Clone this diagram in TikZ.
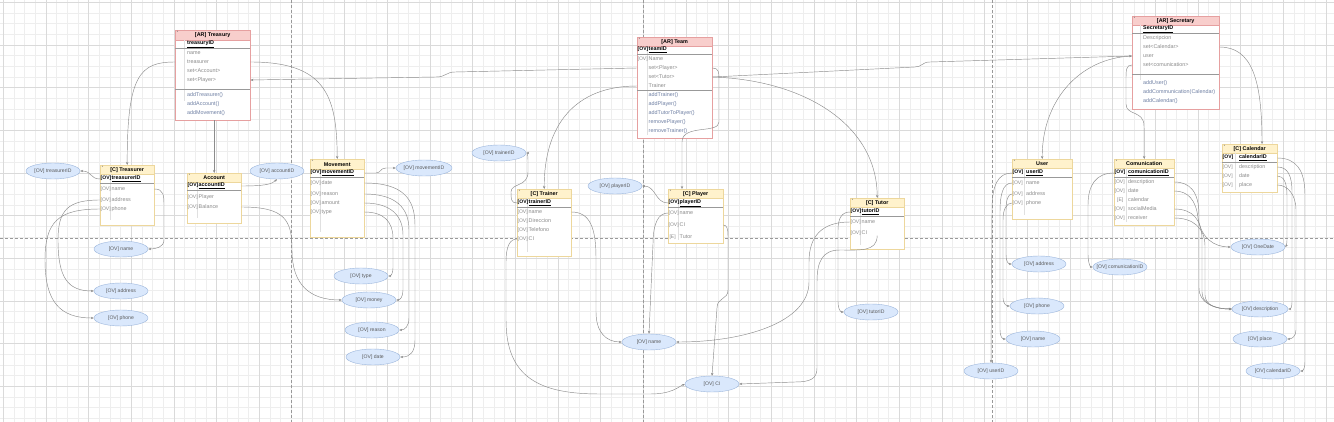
\documentclass[tikz,border=0pt]{standalone}
\usepackage{fontspec}
\setmainfont{Liberation Sans}
\usetikzlibrary{shapes.geometric, arrows.meta}

\definecolor{arfill}{HTML}{F8CECC}
\definecolor{arline}{HTML}{E6A0A0}
\definecolor{cfill}{HTML}{FFF2CC}
\definecolor{cline}{HTML}{EDD79C}
\definecolor{ovfill}{HTML}{DAE8FC}
\definecolor{ovline}{HTML}{9CB6DC}
\definecolor{gridminor}{HTML}{EEEEEE}
\definecolor{gridmajor}{HTML}{DADADA}
\definecolor{edgegray}{HTML}{8C8C8C}
\definecolor{rowtext}{HTML}{8A8A8A}
\definecolor{methtext}{HTML}{6E7FA3}

\newcommand{\tg}[2]{\makebox[#1][l]{\fontsize{5}{6}\selectfont #2}}
\newcommand{\ovt}[1]{\makebox[0pt]{[OV] #1}}

\begin{document}
\begin{tikzpicture}[x=1pt, y=-1pt, >={Stealth[length=3pt,width=2.4pt]},
  every node/.style={font=\fontsize{5.4}{6}\selectfont, inner sep=0pt},
  arbox/.style={draw=arline, fill=white, anchor=north west},
  arhead/.style={draw=arline, fill=arfill, anchor=north west, font=\fontsize{5.4}{6}\selectfont\bfseries},
  cbox/.style={draw=cline, fill=white, anchor=north west},
  chead/.style={draw=cline, fill=cfill, anchor=north west, font=\fontsize{5.4}{6}\selectfont\bfseries},
  starmark/.style={font=\fontsize{3.5}{4}\selectfont, text=black!70},
  keyrow/.style={anchor=west, text=black, font=\fontsize{5.4}{6}\selectfont\bfseries},
  attr/.style={anchor=west, text=rowtext},
  meth/.style={anchor=west, text=methtext},
  ovell/.style={ellipse, draw=ovline, fill=ovfill, minimum width=54pt, minimum height=16pt,
    text=black!65, font=\fontsize{5.1}{6}\selectfont},
  link/.style={draw=edgegray, line width=0.45pt, ->},
  keyline/.style={draw=black!40, line width=0.9pt},
  colline/.style={draw=black!12, line width=0.3pt},
  pagebreak/.style={draw=black!40, line width=0.4pt, dash pattern=on 3pt off 2pt}]

  % background and grid
  \fill[white] (0,0) rectangle (1334,422);
  \useasboundingbox (0,0) rectangle (1334,422);
  \foreach \i in {0,...,125} \draw[gridminor, line width=0.3pt] ({3+\i*10.667},0) -- ({3+\i*10.667},422);
  \foreach \i in {0,...,40} \draw[gridminor, line width=0.3pt] (0,{2+\i*10.667}) -- (1334,{2+\i*10.667});
  \foreach \i in {0,...,31} \draw[gridmajor, line width=0.3pt] ({3+\i*42.667},0) -- ({3+\i*42.667},422);
  \foreach \i in {0,...,10} \draw[gridmajor, line width=0.3pt] (0,{2+\i*42.667}) -- (1334,{2+\i*42.667});
  \draw[pagebreak] (291,0) -- (291,422);
  \draw[pagebreak] (643,0) -- (643,422);
  \draw[pagebreak] (992,0) -- (992,422);
  \draw[pagebreak] (0,238) -- (1334,238);

  % [AR] Treasury
  \node[arbox, minimum width=75pt, minimum height=90pt] (treasury) at (175,30) {};
  \node[arhead, minimum width=75pt, minimum height=10pt] (try-h) at (treasury.north west) {[AR] Treasury};
  \node[starmark] (try-star) at (177.5,32) {*};
  \draw[colline] (184,40) -- (184,101);
  \node[keyrow] (try-id) at (187,44) {\underline{treasuryID}};
  \draw[keyline] (175,48) -- (250,48);
  \node[attr] (try-name) at (187,53) {name};
  \node[attr] (try-treas) at (187,62) {treasurer};
  \node[attr] (try-setacc) at (187,71) {set<Account>};
  \node[attr] (try-setply) at (187,80) {set<Player>};
  \draw[keyline] (175,89) -- (250,89);
  \node[meth] (try-m1) at (187,95) {addTreasurer()};
  \node[meth] (try-m2) at (187,104) {addAccount()};
  \node[meth] (try-m3) at (187,113) {addMovement()};

  % [C] Treasurer
  \node[cbox, minimum width=54pt, minimum height=60pt] (treasurer) at (100,165) {};
  \node[chead, minimum width=54pt, minimum height=9pt] (tsr-h) at (treasurer.north west) {[C] Treasurer};
  \node[starmark] (tsr-star) at (102.5,167) {*};
  \draw[colline] (110,174) -- (110,220);
  \node[keyrow] (tsr-id) at (100.5,179) {\tg{11pt}{[OV]}\underline{treasurerID}};
  \draw[keyline] (100,183) -- (154,183);
  \node[attr] (tsr-name) at (100.5,189) {\tg{11pt}{[OV]}name};
  \node[attr] (tsr-addr) at (100.5,200) {\tg{11pt}{[OV]}address};
  \node[attr] (tsr-phone) at (100.5,209) {\tg{11pt}{[OV]}phone};

  % Account
  \node[cbox, minimum width=54pt, minimum height=50pt] (account) at (187,173) {};
  \node[chead, minimum width=54pt, minimum height=9pt] (acc-h) at (account.north west) {Account};
  \node[starmark] (acc-star) at (189.5,175) {*};
  \draw[colline] (197,182) -- (197,218);
  \node[keyrow] (acc-id) at (187.5,186) {\tg{11pt}{[OV]}\underline{accountID}};
  \draw[keyline] (187,190) -- (241,190);
  \node[attr] (acc-player) at (187.5,197) {\tg{11pt}{[OV]}Player};
  \node[attr] (acc-bal) at (187.5,207) {\tg{11pt}{[OV]}Balance};

  % Movement
  \node[cbox, minimum width=54pt, minimum height=78pt] (movement) at (310,159) {};
  \node[chead, minimum width=54pt, minimum height=10pt] (mov-h) at (movement.north west) {Movement};
  \node[starmark] (mov-star) at (312.5,161) {*};
  \draw[colline] (320,169) -- (320,232);
  \node[keyrow] (mov-id) at (310.5,173) {\tg{11pt}{[OV]}\underline{movementID}};
  \draw[keyline] (310,177) -- (364,177);
  \node[attr] (mov-date) at (310.5,183) {\tg{11pt}{[OV]}date};
  \node[attr] (mov-reason) at (310.5,194) {\tg{11pt}{[OV]}reason};
  \node[attr] (mov-amount) at (310.5,203) {\tg{11pt}{[OV]}amount};
  \node[attr] (mov-type) at (310.5,212) {\tg{11pt}{[OV]}type};

  % [AR] Team
  \node[arbox, minimum width=75pt, minimum height=101pt] (team) at (637,37) {};
  \node[arhead, minimum width=75pt, minimum height=9pt] (team-h) at (team.north west) {[AR] Team};
  \node[starmark] (team-star) at (639.5,39) {*};
  \draw[colline] (647,46) -- (647,135);
  \node[keyrow] (team-id) at (637.5,50) {\tg{11pt}{[OV]}\underline{teamID}};
  \draw[keyline] (637,54) -- (712,54);
  \node[attr] (team-name) at (637.5,59) {\tg{11pt}{[OV]}Name};
  \node[attr] (team-setply) at (648.5,68) {set<Player>};
  \node[attr] (team-settut) at (648.5,77) {set<Tutor>};
  \node[attr] (team-trainer) at (648.5,86) {Trainer};
  \draw[keyline] (637,90) -- (712,90);
  \node[meth] (team-m1) at (648.5,95) {addTrainer()};
  \node[meth] (team-m2) at (648.5,104) {addPlayer()};
  \node[meth] (team-m3) at (648.5,113) {addTutorToPlayer()};
  \node[meth] (team-m4) at (648.5,122) {removePlayer()};
  \node[meth] (team-m5) at (648.5,131) {removeTrainer()};

  % [C] Trainer
  \node[cbox, minimum width=54pt, minimum height=67pt] (trainer) at (517,189) {};
  \node[chead, minimum width=54pt, minimum height=9pt] (trn-h) at (trainer.north west) {[C] Trainer};
  \node[starmark] (trn-star) at (519.5,191) {*};
  \draw[colline] (527,198) -- (527,252);
  \node[keyrow] (trn-id) at (517.5,203) {\tg{11pt}{[OV]}\underline{trainerID}};
  \draw[keyline] (517,207) -- (571,207);
  \node[attr] (trn-name) at (517.5,212) {\tg{11pt}{[OV]}name};
  \node[attr] (trn-dir) at (517.5,221) {\tg{11pt}{[OV]}Direccion};
  \node[attr] (trn-tel) at (517.5,230) {\tg{11pt}{[OV]}Telefono};
  \node[attr] (trn-ci) at (517.5,239) {\tg{11pt}{[OV]}CI};

  % [C] Player
  \node[cbox, minimum width=55pt, minimum height=54pt] (player) at (668,189) {};
  \node[chead, minimum width=55pt, minimum height=9pt] (ply-h) at (player.north west) {[C] Player};
  \node[starmark] (ply-star) at (670.5,191) {*};
  \draw[colline] (678,198) -- (678,240);
  \node[keyrow] (ply-id) at (668.5,203) {\tg{11pt}{[OV]}\underline{playerID}};
  \draw[keyline] (668,207) -- (723,207);
  \node[attr] (ply-name) at (668.5,213) {\tg{11pt}{[OV]}name};
  \node[attr] (ply-ci) at (668.5,225) {\tg{11pt}{[OV]}CI};
  \node[attr] (ply-tutor) at (668.5,237) {\tg{11pt}{\,[E]}Tutor};

  % [C] Tutor
  \node[cbox, minimum width=54pt, minimum height=51pt] (tutor) at (850,198) {};
  \node[chead, minimum width=54pt, minimum height=9pt] (tut-h) at (tutor.north west) {[C] Tutor};
  \node[starmark] (tut-star) at (852.5,200) {*};
  \draw[colline] (860,207) -- (860,245);
  \node[keyrow] (tut-id) at (850.5,212) {\tg{11pt}{[OV]}\underline{tutorID}};
  \draw[keyline] (850,216) -- (904,216);
  \node[attr] (tut-name) at (850.5,222) {\tg{11pt}{[OV]}name};
  \node[attr] (tut-ci) at (850.5,233) {\tg{11pt}{[OV]}CI};

  % [AR] Secretary
  \node[arbox, minimum width=87pt, minimum height=93pt] (secretary) at (1132,16) {};
  \node[arhead, minimum width=87pt, minimum height=9pt] (sec-h) at (secretary.north west) {[AR] Secretary};
  \node[starmark] (sec-star) at (1134.5,18) {*};
  \draw[colline] (1140.5,25) -- (1140.5,80);
  \node[keyrow] (sec-id) at (1143,29) {\underline{SecretaryID}};
  \draw[keyline] (1132,33) -- (1219,33);
  \node[attr] (sec-desc) at (1143,38) {Descripcion};
  \node[attr] (sec-setcal) at (1143,47) {set<Calendar>};
  \node[attr] (sec-user) at (1143,56) {user};
  \node[attr] (sec-setcom) at (1143,65) {set<comunication>};
  \draw[keyline] (1132,74) -- (1219,74);
  \node[meth] (sec-m1) at (1143,83) {addUser()};
  \node[meth] (sec-m2) at (1143,92) {addCommunication(Calendar)};
  \node[meth] (sec-m3) at (1143,101) {addCalendar()};

  % User
  \node[cbox, minimum width=60pt, minimum height=60pt] (user) at (1012,159) {};
  \node[chead, minimum width=60pt, minimum height=9pt] (usr-h) at (user.north west) {User};
  \node[starmark] (usr-star) at (1014.5,161) {*};
  \draw[colline] (1024.5,168) -- (1024.5,215);
  \node[keyrow] (usr-id) at (1012.5,173) {\tg{13.5pt}{[OV]}\underline{userID}};
  \draw[keyline] (1012,177) -- (1072,177);
  \node[attr] (usr-name) at (1012.5,183) {\tg{13.5pt}{[OV]}name};
  \node[attr] (usr-addr) at (1012.5,194) {\tg{13.5pt}{[OV]}address};
  \node[attr] (usr-phone) at (1012.5,203) {\tg{13.5pt}{[OV]}phone};

  % Comunication
  \node[cbox, minimum width=60pt, minimum height=66pt] (comm) at (1114,159) {};
  \node[chead, minimum width=60pt, minimum height=9pt] (com-h) at (comm.north west) {Comunication};
  \node[starmark] (com-star) at (1116.5,161) {*};
  \draw[colline] (1126.5,168) -- (1126.5,222);
  \node[keyrow] (com-id) at (1114.5,173) {\tg{13.5pt}{[OV]}\underline{comunicationID}};
  \draw[keyline] (1114,177) -- (1174,177);
  \node[attr] (com-desc) at (1114.5,182) {\tg{13.5pt}{[OV]}description};
  \node[attr] (com-date) at (1114.5,191) {\tg{13.5pt}{[OV]}date};
  \node[attr] (com-cal) at (1114.5,200) {\tg{13.5pt}{\hspace{2.5pt}[E]}calendar};
  \node[attr] (com-social) at (1114.5,209) {\tg{13.5pt}{[OV]}socialMedia};
  \node[attr] (com-recv) at (1114.5,218) {\tg{13.5pt}{[OV]}receiver};

  % [C] Calendar
  \node[cbox, minimum width=55pt, minimum height=48pt] (calendar) at (1222,144) {};
  \node[chead, minimum width=55pt, minimum height=9pt] (cal-h) at (calendar.north west) {[C] Calendar};
  \node[starmark] (cal-star) at (1224.5,146) {*};
  \draw[colline] (1235.5,153) -- (1235.5,190);
  \node[keyrow] (cal-id) at (1222.5,158) {\tg{16.5pt}{[OV]}\underline{calendarID}};
  \draw[keyline] (1222,162) -- (1277,162);
  \node[attr] (cal-desc) at (1222.5,167) {\tg{16.5pt}{[OV]}description};
  \node[attr] (cal-date) at (1222.5,176) {\tg{16.5pt}{[OV]}date};
  \node[attr] (cal-place) at (1222.5,185) {\tg{16.5pt}{[OV]}place};

  % value objects
  \node[ovell] (ov-tsrid) at (53,171) {\ovt{treasurerID}};
  \node[ovell] (ov-tsrname) at (121,249) {\ovt{name}};
  \node[ovell] (ov-tsraddr) at (121,291) {\ovt{address}};
  \node[ovell] (ov-tsrphone) at (121,318) {\ovt{phone}};
  \node[ovell] (ov-accid) at (277,171) {\ovt{accountID}};
  \node[ovell, minimum width=56pt] (ov-movid) at (424,168) {\ovt{movementID}};
  \node[ovell] (ov-type) at (361,276) {\ovt{type}};
  \node[ovell] (ov-money) at (369,300) {\ovt{money}};
  \node[ovell] (ov-reason) at (372,330) {\ovt{reason}};
  \node[ovell] (ov-date) at (373,357) {\ovt{date}};
  \node[ovell] (ov-trnid) at (499,153) {\ovt{trainerID}};
  \node[ovell] (ov-plyid) at (615,186) {\ovt{playerID}};
  \node[ovell] (ov-name) at (649,342) {\ovt{name}};
  \node[ovell] (ov-ci) at (712,384) {\ovt{CI}};
  \node[ovell] (ov-tutid) at (871,312) {\ovt{tutorID}};
  \node[ovell] (ov-usraddr) at (1039,264) {\ovt{address}};
  \node[ovell] (ov-usrphone) at (1037,306) {\ovt{phone}};
  \node[ovell] (ov-usrname) at (1033,339) {\ovt{name}};
  \node[ovell] (ov-usrid) at (991,371) {\ovt{userID}};
  \node[ovell] (ov-comid) at (1120,267) {\ovt{comunicationID}};
  \node[ovell] (ov-onedate) at (1258,247) {\ovt{OneDate}};
  \node[ovell, minimum width=56pt] (ov-desc) at (1260,309) {\ovt{description}};
  \node[ovell] (ov-place) at (1260,339) {\ovt{place}};
  \node[ovell] (ov-calid) at (1273,371) {\ovt{calendarID}};

  % aggregate links
  \draw[link] (treasury.west |- try-treas) .. controls (140,62) and (127,75) .. (treasurer.north);
  \draw[link] (account.north |- treasury.south) -- (account.north);
  \draw[link] (treasury.east |- try-treas) .. controls (325,62) and (337,95) .. (movement.north);
  \draw[link] (team.west |- team-setply) -- (455,72) .. controls (446,72) and (446,77) .. (436,77) -- (treasury.east |- try-setply);
  \draw[link] (team.east |- team-settut) -- (915,67) .. controls (922,67) and (922,62) .. (930,62) -- (secretary.west |- sec-user);
  \draw[link] (team.east |- team-settut) .. controls (805,80) and (877,125) .. (tutor.north);
  \draw[link] (team.west |- team-trainer) .. controls (575,86) and (544,125) .. (trainer.north);
  \draw[link] (team.east |- team-setply) .. controls (719,68) and (719,72) .. (719,82) -- (719,122)
    .. controls (719,134) and (682,124) .. (682,142) -- ([xshift=14pt]player.north west);
  \draw[link] (secretary.west |- sec-user) .. controls (1080,58) and (1042,100) .. (user.north);
  \draw[link] (secretary.west |- sec-setcom) .. controls (1126,65) and (1126,70) .. (1126,80) -- (1126,104)
    .. controls (1126,116) and (1144,110) .. (1144,126) -- (comm.north);
  \draw[link] (secretary.east |- sec-setcal) .. controls (1252,47) and (1262,80) .. ([xshift=40pt]calendar.north west);

  % Treasurer values
  \draw[link] (treasurer.west |- tsr-id) .. controls (90,179) and (92,171) .. (ov-tsrid.east);
  \draw[link] (treasurer.east |- tsr-name) .. controls (164,189) and (164,196) .. (164,206) -- (164,240)
    .. controls (164,247) and (156,249) .. (ov-tsrname.east);
  \draw[link] (treasurer.west |- tsr-addr) .. controls (68,200) and (58,210) .. (58,240)
    .. controls (58,278) and (68,291) .. (ov-tsraddr.west);
  \draw[link] (treasurer.west |- tsr-phone) .. controls (58,209) and (45,222) .. (45,260)
    .. controls (45,302) and (60,318) .. (ov-tsrphone.west);

  % Account and Movement values
  \draw[link] (account.east |- acc-id) .. controls (266,186) and (272,184) .. (ov-accid.south);
  \draw[link] (account.east |- acc-bal) .. controls (285,207) and (292,220) .. (292,250)
    .. controls (292,285) and (310,300) .. (ov-money.west);
  \draw[link] (movement.east |- mov-id) -- (376,173) .. controls (381,173) and (380,168) .. (386,168) -- (ov-movid.west);
  \draw[link] (movement.east |- mov-date) .. controls (402,183) and (415,198) .. (415,225) -- (415,340)
    .. controls (415,352) and (410,357) .. (ov-date.east);
  \draw[link] (movement.east |- mov-reason) .. controls (396,194) and (409,208) .. (409,230) -- (409,318)
    .. controls (409,326) and (405,330) .. (ov-reason.east);
  \draw[link] (movement.east |- mov-amount) .. controls (390,203) and (403,215) .. (403,235) -- (403,290)
    .. controls (403,297) and (400,300) .. (ov-money.east);
  \draw[link] (movement.east |- mov-type) .. controls (384,212) and (393,222) .. (393,238) -- (393,268)
    .. controls (393,273) and (391,276) .. (ov-type.east);

  % Trainer, Player and Tutor values
  \draw[link] (trainer.west |- trn-id) .. controls (511,203) and (511,199) .. (511,192)
    .. controls (511,183) and (528,187) .. (528,172) -- (528,160) .. controls (528,156) and (527,153) .. (ov-trnid.east);
  \draw[link] (trainer.east |- trn-name) .. controls (590,212) and (596,228) .. (596,258) -- (596,312)
    .. controls (596,332) and (606,342) .. (ov-name.west);
  \draw[link] (trainer.west |- trn-ci) .. controls (510,239) and (506,246) .. (506,262) -- (506,320)
    .. controls (506,378) and (540,394) .. (600,394) -- (650,394) .. controls (672,394) and (678,387) .. (ov-ci.west);
  \draw[link] (player.west |- ply-id) .. controls (655,203) and (656,186) .. (ov-plyid.east);
  \draw[link] (player.west |- ply-name) .. controls (658,213) and (653,224) .. (653,244) -- (ov-name.north);
  \draw[link] (player.east |- ply-ci) .. controls (727,225) and (728,229) .. (728,236) -- (728,290)
    .. controls (728,300) and (717,297) .. (717,308) -- (ov-ci.north);
  \draw[link] (tutor.west |- tut-id) .. controls (842,212) and (838,218) .. (838,230) -- (838,302)
    .. controls (838,308) and (840,312) .. (ov-tutid.west);
  \draw[link] (tutor.west |- tut-name) .. controls (822,222) and (809,236) .. (809,262) -- (809,282)
    .. controls (809,322) and (745,342) .. (ov-name.east);
  \draw[link] (tutor.center |- tut-ci.south) .. controls (877,252) and (860,250) .. (840,250)
    .. controls (822,250) and (817,262) .. (817,282) -- (817,368) .. controls (817,379) and (810,382) .. (795,382) -- (ov-ci.east);

  % User and Comunication values
  \draw[link] (user.west |- usr-id) .. controls (998,173) and (992,185) .. (992,210) -- (ov-usrid.north);
  \draw[link] (user.west |- usr-name) .. controls (1003,183) and (1000,194) .. (1000,212) -- (1000,330)
    .. controls (1000,336) and (1002,339) .. (ov-usrname.west);
  \draw[link] (user.west |- usr-addr) .. controls (1008,194) and (1006,200) .. (1006,210) -- (1006,255)
    .. controls (1006,261) and (1008,264) .. (ov-usraddr.west);
  \draw[link] (user.west |- usr-phone) .. controls (1006,203) and (1003,210) .. (1003,220) -- (1003,298)
    .. controls (1003,303) and (1006,306) .. (ov-usrphone.west);
  \draw[link] (comm.west |- com-id) .. controls (1096,173) and (1088,185) .. (1088,205) -- (1088,255)
    .. controls (1088,262) and (1090,267) .. (ov-comid.west);
  \draw[link] (comm.east |- com-desc) .. controls (1190,182) and (1199,192) .. (1199,215) -- (1199,288)
    .. controls (1199,303) and (1214,309) .. (ov-desc.west);
  \draw[link] (comm.east |- com-date) .. controls (1188,191) and (1196,200) .. (1198,218)
    .. controls (1201,238) and (1214,247) .. (ov-onedate.west);
  \draw[link] (comm.east |- com-social) .. controls (1193,209) and (1202,220) .. (1202,240) -- (1202,292)
    .. controls (1202,304) and (1215,309) .. (ov-desc.west);
  \draw[link] (comm.east |- com-recv) .. controls (1193,218) and (1205,228) .. (1205,246) -- (1205,295)
    .. controls (1205,305) and (1216,309) .. (ov-desc.west);

  % Calendar values
  \draw[link] (calendar.east |- cal-id) .. controls (1296,158) and (1305,170) .. (1305,195) -- (1305,362)
    .. controls (1305,368) and (1303,371) .. (ov-calid.east);
  \draw[link] (calendar.east |- cal-desc) .. controls (1288,167) and (1292,176) .. (1292,192) -- (1292,302)
    .. controls (1292,306) and (1291,309) .. (ov-desc.east);
  \draw[link] (calendar.east |- cal-date) .. controls (1284,176) and (1287,183) .. (1287,196) -- (1287,240)
    .. controls (1287,244) and (1286,246) .. (ov-onedate.east);
  \draw[link] (calendar.east |- cal-place) .. controls (1287,185) and (1296,194) .. (1296,210) -- (1296,330)
    .. controls (1296,336) and (1292,339) .. (ov-place.east);
\end{tikzpicture}
\end{document}
